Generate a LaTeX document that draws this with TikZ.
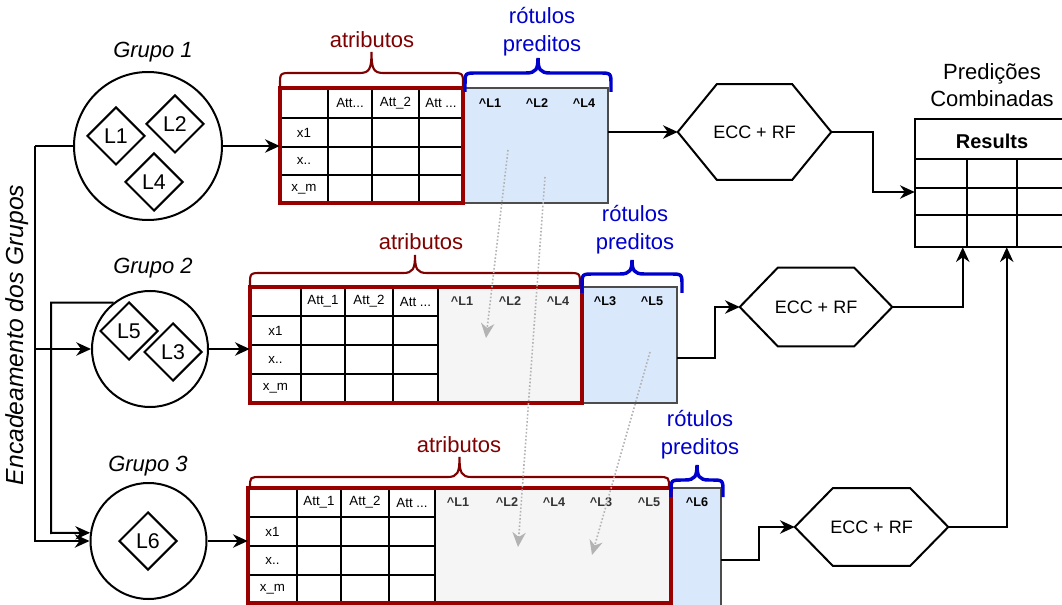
\documentclass[tikz,border=0pt]{standalone}
\usepackage{fontspec}
\setmainfont{Liberation Sans}
\usetikzlibrary{arrows.meta,shapes.geometric,fit,calc}
\definecolor{tblred}{HTML}{990000}
\definecolor{brred}{HTML}{7F0000}
\definecolor{bblue}{HTML}{0000CC}
\definecolor{lblue}{HTML}{DAE8FC}
\definecolor{lgray}{HTML}{F5F5F5}
\definecolor{hdgray}{HTML}{333333}
\definecolor{dotgray}{HTML}{B3B3B3}
\newcommand\drbrace[6]{%
 \pgfmathsetmacro\bxc{(#1+#2)/2}%
 \pgfmathsetmacro\brr{min(12,#3-#4)}%
 \draw[#6] (#1,#3) -- (#1,#4+\brr) .. controls (#1,#4) .. (#1+\brr,#4) -- (\bxc-12,#4)
   .. controls (\bxc-2,#4) and (\bxc,#4-4) .. (\bxc,#5)
   .. controls (\bxc,#4-4) and (\bxc+2,#4) .. (\bxc+12,#4) -- (#2-\brr,#4)
   .. controls (#2,#4) .. (#2,#4+\brr) -- (#2,#3);
}
\tikzset{
 x=0.75pt, y=-0.75pt,
 ln/.style={line width=1.5pt, line join=miter},
 arr/.style={ln, -{Stealth[length=11pt,width=10pt,inset=3.5pt]}},
 dotarr/.style={draw=dotgray, line width=1.2pt, dash pattern=on 1.2pt off 1.5pt,
   -{Stealth[length=11pt,width=10pt,inset=3.5pt,color=dotgray,fill=dotgray]}},
 grp/.style={circle, draw, ln, inner sep=0pt},
 lbl/.style={diamond, draw, ln, aspect=1, inner sep=0pt, minimum size=43.5pt, font=\fontsize{16}{18}\selectfont},
 hexnode/.style={inner sep=0pt, font=\fontsize{13.5}{16}\selectfont},
 cell/.style={inner sep=0pt, font=\fontsize{10}{12}\selectfont},
 hd/.style={inner sep=0pt, font=\bfseries\fontsize{9.5}{11}\selectfont},
 hdg/.style={hd, text=hdgray},
 redbox/.style={draw=tblred, line width=2.4pt},
 bluebox/.style={fill=lblue, draw=black!70, line width=0.8pt},
 graybox/.style={fill=lgray},
 redbr/.style={draw=brred, line width=1.6pt},
 bluebr/.style={draw=bblue, line width=2.6pt},
 redtxt/.style={text=brred, font=\fontsize{16.5}{21}\selectfont, inner sep=0pt},
 bluetxt/.style={text=bblue, font=\fontsize{16.5}{21}\selectfont, align=center, inner sep=0pt},
 grptxt/.style={font=\itshape\fontsize{16.5}{20}\selectfont, inner sep=0pt},
 fitbox/.style={inner sep=0pt},
}
\newcommand\hexdraw[2]{%
 \draw[ln] (#1.west) -- ($(#1.north west)+(#2,0)$) -- ($(#1.north east)-(#2,0)$) -- (#1.east)
   -- ($(#1.south east)-(#2,0)$) -- ($(#1.south west)+(#2,0)$) -- cycle;
}
\begin{document}
\begin{tikzpicture}
\useasboundingbox (0,0) rectangle (1062,605);
\clip (0,0) rectangle (1062,605);

% ---------------- groups ----------------
\node[grp, minimum size=111pt] (g1) at (148,146) {};
\node[lbl] (l1) at (116,136) {L1};
\node[lbl] (l2) at (175,124) {L2};
\node[lbl] (l4) at (154,182) {L4};
\node[grptxt] (gt1) at (153,52) {Grupo 1};

\node[grp, minimum size=87pt] (g2) at (150,349) {};
\node[lbl] (l5) at (129,331) {L5};
\node[lbl] (l3) at (173,352) {L3};
\node[grptxt] (gt2) at (153,268) {Grupo 2};

\node[grp, minimum size=87pt] (g3) at (148.5,541) {};
\node[lbl] (l6) at (148,541) {L6};
\node[grptxt] (gt3) at (148,466) {Grupo 3};

\node[rotate=90, font=\itshape\fontsize{18.5}{22}\selectfont, inner sep=0pt] (enc) at (17,335) {Encadeamento dos Grupos};

\coordinate (j1) at (35,146);
\coordinate (j2) at (51,533);
\draw[ln] (g1.west) -- (j1);
\draw[arr] (j1) |- (g2.west);
\draw[arr] (j1) |- (g3.west);
\draw[arr] (g2.128) -| (j2) -- (g3.172);

% ---------------- table 1 ----------------
\node[fit={(280,88) (608,203)}, fitbox] (t1) {};
\draw[bluebox] (463,88) rectangle (608,203);
\foreach \y in {118,147,175} \draw[ln] (280,\y) -- (463,\y);
\foreach \x in {328,372,419} \draw[ln] (\x,88) -- (\x,203);
\draw[redbox] (280,88) rectangle (463,203);
\node[cell] at (350,103) {Att...};
\node[cell] at (395.5,103) {Att\_2};
\node[cell] at (441,103) {Att ...};
\node[cell] at (304,132.5) {x1};
\node[cell] at (304,161) {x..};
\node[cell] at (304,189) {x\_m};
\node[hd] at (490,103) {\^{}L1};
\node[hd] at (537,103) {\^{}L2};
\node[hd] at (584,103) {\^{}L4};
\drbrace{280}{463}{88}{73}{52}{redbr}
\drbrace{465}{611}{92}{73}{58}{bluebr}
\node[redtxt] (a1) at (372,40) {atributos};
\node[bluetxt] (r1) at (542,32) {rótulos\\preditos};

% ---------------- table 2 ----------------
\node[fit={(250,287) (677,403)}, fitbox] (t2) {};
\fill[graybox] (438,287) rectangle (582,403);
\draw[bluebox] (582,287) rectangle (677,403);
\foreach \y in {316,345,374} \draw[ln] (250,\y) -- (438,\y);
\foreach \x in {301,345,393,438} \draw[ln] (\x,287) -- (\x,403);
\draw[redbox] (250,287) rectangle (582,403);
\node[cell] at (323,301.5) {Att\_1};
\node[cell] at (369,301.5) {Att\_2};
\node[cell] at (415.5,301.5) {Att ...};
\node[cell] at (275.5,330.5) {x1};
\node[cell] at (275.5,359.5) {x..};
\node[cell] at (275.5,388.5) {x\_m};
\node[hdg] at (462,301.5) {\^{}L1};
\node[hdg] at (510,301.5) {\^{}L2};
\node[hdg] at (558,301.5) {\^{}L4};
\node[hd] at (605,301.5) {\^{}L3};
\node[hd] at (652,301.5) {\^{}L5};
\drbrace{250}{580}{287}{273}{255}{redbr}
\drbrace{582}{682}{293}{274}{260}{bluebr}
\node[redtxt] (a2) at (421,242) {atributos};
\node[bluetxt] (r2) at (635,230) {rótulos\\preditos};

% ---------------- table 3 ----------------
\node[fit={(248,488) (721,603)}, fitbox] (t3) {};
\fill[graybox] (435,488) rectangle (671,603);
\draw[bluebox] (671,488) rectangle (721,606);
\foreach \y in {517,546,575} \draw[ln] (248,\y) -- (435,\y);
\foreach \x in {297,341,389,435} \draw[ln] (\x,488) -- (\x,603);
\draw[redbox] (248,488) rectangle (671,603);
\node[cell] at (319,502.5) {Att\_1};
\node[cell] at (365,502.5) {Att\_2};
\node[cell] at (412,502.5) {Att ...};
\node[cell] at (272.5,531.5) {x1};
\node[cell] at (272.5,560.5) {x..};
\node[cell] at (272.5,589) {x\_m};
\node[hdg] at (458,502.5) {\^{}L1};
\node[hdg] at (507,502.5) {\^{}L2};
\node[hdg] at (554,502.5) {\^{}L4};
\node[hdg] at (601,502.5) {\^{}L3};
\node[hdg] at (649,502.5) {\^{}L5};
\node[hd] at (697,502.5) {\^{}L6};
\drbrace{250}{669}{488}{477}{457}{redbr}
\drbrace{671}{723}{497}{480}{465}{bluebr}
\node[redtxt] (a3) at (459,445) {atributos};
\node[bluetxt] (r3) at (700,435) {rótulos\\preditos};

% circles -> tables
\draw[arr] (g1.east) -- (t1.west |- g1.east);
\draw[arr] (g2.east) -- (t2.west |- g2.east);
\draw[arr] (g3.east) -- (t3.west |- g3.east);

% dotted arrows
\coordinate (p1s) at (508,150); \coordinate (p1e) at (486,338);
\coordinate (p2s) at (545,177); \coordinate (p2e) at (518,547);
\coordinate (p3s) at (650,352); \coordinate (p3e) at (592,555);
\draw[dotarr] (p1s) -- (p1e);
\draw[dotarr] (p2s) -- (p2e);
\draw[dotarr] (p3s) -- (p3e);

% ---------------- hexagons ----------------
\node[hexnode, minimum width=114.75pt, minimum height=71.25pt] (h1) at (754.5,132) {ECC + RF};
\hexdraw{h1}{39}
\node[hexnode, minimum width=114pt, minimum height=58.5pt] (h2) at (816,307) {ECC + RF};
\hexdraw{h2}{38}
\node[hexnode, minimum width=114.75pt, minimum height=57.75pt] (h3) at (871.5,527) {ECC + RF};
\hexdraw{h3}{38}

\coordinate (d2) at (715,358);
\coordinate (d3) at (759,560);
\draw[arr] (t1.east |- h1.west) -- (h1.west);
\draw[arr] (t2.east |- d2) -- (d2) |- (h2.west);
\draw[arr] (t3.east |- d3) -- (d3) |- (h3.west);

% ---------------- results ----------------
\node[fit={(915,119) (1066,247)}, fitbox] (res) {};
\draw[ln] (915,119) rectangle (1066,247);
\draw[ln] (915,159) -- (1066,159);
\foreach \y in {188,215} \draw[ln] (915,\y) -- (1066,\y);
\foreach \x in {967,1017} \draw[ln] (\x,159) -- (\x,247);
\node[inner sep=0pt, font=\bfseries\fontsize{15}{18}\selectfont] (rt) at (992,141) {Results};
\node[inner sep=0pt, font=\fontsize{16.5}{20.25}\selectfont, align=center] (pc) at (992,85) {Predições\\Combinadas};

\coordinate (c1) at (873,192);
\draw[arr] (h1.east) -| (c1) -- (res.west |- c1);
\draw[arr] (h2.east) -| ($(res.south west)+(48,0)$);
\draw[arr] (h3.east) -| ($(res.south west)+(92,0)$);
\end{tikzpicture}
\end{document}
